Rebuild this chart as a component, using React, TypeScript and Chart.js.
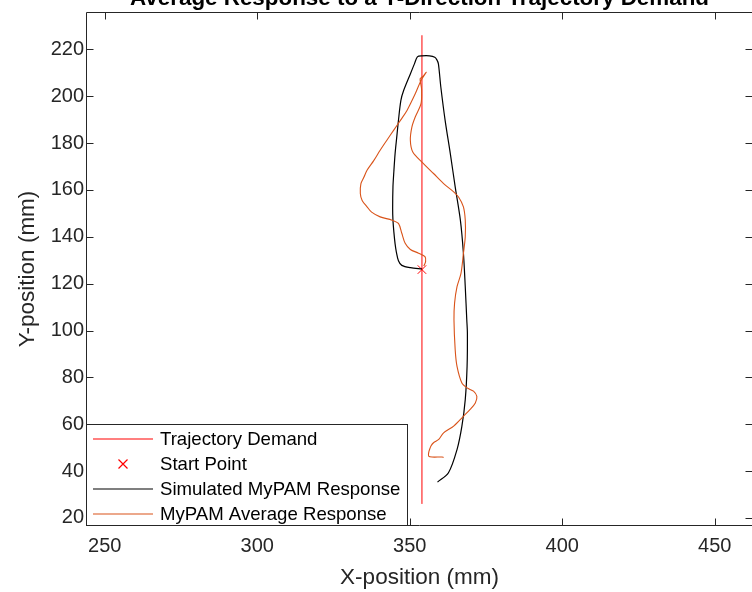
import { useEffect, useRef } from 'react';
import { Chart, registerables } from 'chart.js';

Chart.register(...registerables);

const FONT = '"Liberation Sans", Arial, Helvetica, sans-serif';
const AXIS_COLOR = '#262626';

// Axis ticks
const xTicks = [250, 300, 350, 400, 450];
const yTicks = [20, 40, 60, 80, 100, 120, 140, 160, 180, 200, 220];

// Series names
const seriesNames = [
  'Trajectory Demand',
  'Start Point',
  'Simulated MyPAM Response',
  'MyPAM Average Response',
];

// Straight-line demand (mm)
const demandX = [354, 354];
const demandY = [26, 226];

// Start point (mm)
const startX = [354];
const startY = [126];

// Simulated MyPAM response (mm)
const simX = [
  354.0, 350.2, 347.4, 346.3, 345.6, 345.2, 344.8, 344.5, 344.4, 344.5, 344.8, 345.2,
  345.7, 346.3, 347.1, 348.0, 350.2, 351.6, 352.5, 354.0, 356.5, 358.2, 358.9, 359.4,
  360.2, 361.6, 363.3, 364.9, 366.6, 367.6, 368.2, 368.7, 368.9, 368.8, 368.2, 367.1,
  365.5, 362.7, 359.1,
];
const simY = [
  126.3, 126.8, 127.8, 129.8, 133.6, 137.0, 142.0, 147.1, 152.0, 161.3, 168.0, 175.5,
  182.0, 189.7, 198.2, 202.4, 209.5, 214.0, 216.8, 217.2, 217.2, 216.6, 215.5, 213.8,
  203.8, 189.7, 175.5, 161.3, 147.1, 133.0, 118.7, 104.6, 98.9, 84.7, 70.5, 59.2,
  49.2, 39.3, 35.3,
];

// MyPAM average response (mm)
const avgX = [
  354.6, 355.2, 355.0, 352.9, 350.2, 348.5, 347.4, 346.3, 344.2, 340.3, 337.5, 336.0,
  334.4, 333.8, 334.0, 335.0, 336.0, 338.2, 340.3, 342.5, 344.7, 347.0, 349.1, 351.8,
  353.7, 355.4, 354.2, 353.4, 353.8, 353.9, 353.7, 351.8, 350.7, 350.2, 351.0, 354.0,
  357.8, 361.1, 364.4, 366.0, 367.6, 368.2, 368.2, 367.6, 366.8, 365.5, 364.7, 364.5,
  364.9, 365.5, 367.1, 368.8, 370.9, 372.0, 371.5, 369.8, 367.6, 364.4, 361.1, 359.5,
  357.8, 357.0, 356.5, 356.2, 356.2, 357.3, 360.6, 361.1,
];
const avgY = [
  127.5, 129.4, 131.5, 133.0, 134.6, 137.2, 141.5, 145.7, 147.1, 148.5, 150.5, 152.8,
  155.5, 158.5, 162.7, 165.5, 168.4, 172.5, 176.9, 181.2, 185.4, 189.8, 193.9, 201.0,
  206.7, 210.2, 208.3, 207.4, 204.0, 202.4, 196.8, 191.1, 186.8, 181.2, 176.2, 171.9,
  167.0, 162.7, 159.2, 157.0, 152.8, 147.1, 140.0, 132.9, 124.4, 118.7, 111.7, 104.6,
  91.8, 84.7, 77.6, 75.5, 74.1, 71.9, 69.1, 66.3, 63.4, 59.2, 56.3, 53.5,
  52.1, 50.8, 49.2, 47.8, 46.4, 46.0, 46.0, 45.8,
];

const zip = (xs: number[], ys: number[]) => xs.map((x, i) => ({ x, y: ys[i] }));

// Box outline with inward ticks on all four sides
const boxAxesPlugin = {
  id: 'boxAxes',
  beforeDatasetsDraw(chart: any) {
    const { ctx, chartArea } = chart;
    const { left, right, top, bottom } = chartArea;
    const xs = chart.scales.x;
    const ys = chart.scales.y;
    const tl = 6.5;
    ctx.save();
    ctx.strokeStyle = AXIS_COLOR;
    ctx.lineWidth = 1;
    ctx.beginPath();
    ctx.moveTo(left - 0.5, top - 0.5);
    ctx.lineTo(right + 0.5, top - 0.5);
    ctx.lineTo(right + 0.5, bottom + 0.5);
    ctx.lineTo(left - 0.5, bottom + 0.5);
    ctx.closePath();
    for (const v of xTicks) {
      const p = Math.round(xs.getPixelForValue(v)) + 0.5;
      ctx.moveTo(p, bottom);
      ctx.lineTo(p, bottom - tl);
      ctx.moveTo(p, top);
      ctx.lineTo(p, top + tl);
    }
    for (const v of yTicks) {
      const p = Math.round(ys.getPixelForValue(v)) + 0.5;
      ctx.moveTo(left, p);
      ctx.lineTo(left + tl, p);
      ctx.moveTo(right, p);
      ctx.lineTo(right - tl, p);
    }
    ctx.stroke();
    ctx.restore();
  },
};

// Bold title above the axes
const topTitlePlugin = {
  id: 'topTitle',
  afterDraw(chart: any) {
    const { ctx, chartArea } = chart;
    ctx.save();
    ctx.font = `bold 22.4px ${FONT}`;
    ctx.fillStyle = '#000000';
    ctx.textAlign = 'center';
    ctx.textBaseline = 'alphabetic';
    ctx.fillText(
      'Average Response to a Y-Direction Trajectory Demand',
      (chartArea.left + chartArea.right) / 2,
      5
    );
    ctx.restore();
  },
};

// Legend box in the lower-left corner of the axes
const cornerLegendPlugin = {
  id: 'cornerLegend',
  afterDraw(chart: any) {
    const { ctx, chartArea } = chart;
    const boxLeft = chartArea.left - 0.5;
    const boxRight = 407.5;
    const boxTop = 424.5;
    const boxBottom = chartArea.bottom + 0.5;
    const rowTop = 439;
    const rowGap = 25;
    ctx.save();
    ctx.fillStyle = '#ffffff';
    ctx.fillRect(boxLeft, boxTop, boxRight - boxLeft, boxBottom - boxTop);
    ctx.strokeStyle = AXIS_COLOR;
    ctx.lineWidth = 1;
    ctx.strokeRect(boxLeft, boxTop, boxRight - boxLeft, boxBottom - boxTop);
    ctx.font = `18.6px ${FONT}`;
    ctx.textBaseline = 'middle';
    ctx.textAlign = 'left';
    chart.data.datasets.forEach((ds: any, i: number) => {
      const y = rowTop + i * rowGap;
      ctx.strokeStyle = ds.borderColor;
      ctx.lineWidth = 1.2;
      ctx.beginPath();
      if (ds.showLine === false) {
        const cx = 123;
        const r = 4.5;
        ctx.moveTo(cx - r, y - r);
        ctx.lineTo(cx + r, y + r);
        ctx.moveTo(cx - r, y + r);
        ctx.lineTo(cx + r, y - r);
      } else {
        ctx.moveTo(93, y);
        ctx.lineTo(153, y);
      }
      ctx.stroke();
      ctx.fillStyle = '#000000';
      ctx.fillText(ds.label, 160, y + 1);
    });
    ctx.restore();
  },
};

export default function App() {
  const canvasRef = useRef<HTMLCanvasElement | null>(null);

  useEffect(() => {
    const canvas = canvasRef.current;
    if (!canvas) return;
    Chart.defaults.font.family = FONT;

    const chart = new Chart(canvas, {
      type: 'scatter',
      data: {
        datasets: [
          {
            label: seriesNames[0],
            data: zip(demandX, demandY),
            showLine: true,
            borderColor: '#FF0000',
            borderWidth: 1,
            pointRadius: 0,
            order: 4,
          },
          {
            label: seriesNames[1],
            data: zip(startX, startY),
            showLine: false,
            borderColor: '#FF0000',
            backgroundColor: '#FF0000',
            pointStyle: 'crossRot',
            pointRadius: 6,
            pointBorderWidth: 1,
            order: 3,
          },
          {
            label: seriesNames[2],
            data: zip(simX, simY),
            showLine: true,
            borderColor: '#000000',
            borderWidth: 1.2,
            pointRadius: 0,
            tension: 0.3,
            order: 2,
          },
          {
            label: seriesNames[3],
            data: zip(avgX, avgY),
            showLine: true,
            borderColor: '#D95319',
            borderWidth: 1.1,
            pointRadius: 0,
            tension: 0.3,
            order: 1,
          },
        ],
      },
      options: {
        responsive: false,
        animation: false,
        devicePixelRatio: 1,
        layout: { autoPadding: false, padding: { top: 13, right: 0, left: 0, bottom: 0 } },
        plugins: {
          legend: { display: false },
          title: { display: false },
          tooltip: { enabled: false },
        },
        scales: {
          x: {
            type: 'linear',
            min: 244.2,
            max: 462.2,
            afterBuildTicks: (s: any) => {
              s.ticks = xTicks.map((v) => ({ value: v }));
            },
            afterFit: (s: any) => {
              s.height = 67;
              s.paddingLeft = 0;
              s.paddingRight = 0;
            },
            grid: { display: false, drawTicks: false, tickLength: 0 },
            border: { display: false },
            ticks: {
              color: AXIS_COLOR,
              font: { size: 20, family: FONT },
              padding: 9,
              maxRotation: 0,
              autoSkip: false,
            },
            title: {
              display: true,
              text: 'X-position (mm)',
              color: AXIS_COLOR,
              font: { size: 22.5, family: FONT },
              padding: { top: 0, bottom: 1 },
            },
          },
          y: {
            type: 'linear',
            min: 17,
            max: 235.5,
            afterBuildTicks: (s: any) => {
              s.ticks = yTicks.map((v) => ({ value: v }));
            },
            afterFit: (s: any) => {
              s.width = 87;
              s.paddingTop = 0;
              s.paddingBottom = 0;
            },
            grid: { display: false, drawTicks: false, tickLength: 0 },
            border: { display: false },
            ticks: {
              color: AXIS_COLOR,
              font: { size: 20, family: FONT },
              padding: 3,
              autoSkip: false,
            },
            title: {
              display: true,
              text: 'Y-position (mm)',
              color: AXIS_COLOR,
              font: { size: 22.5, family: FONT },
              padding: { top: 14, bottom: 0 },
            },
          },
        },
      },
      plugins: [boxAxesPlugin, cornerLegendPlugin, topTitlePlugin],
    });

    return () => {
      chart.destroy();
    };
  }, []);

  return (
    <div
      style={{
        position: 'absolute',
        left: 0,
        top: 0,
        width: 752,
        height: 592,
        overflow: 'hidden',
        background: '#ffffff',
      }}
    >
      <canvas ref={canvasRef} width={752} height={592} style={{ display: 'block' }} />
    </div>
  );
}
